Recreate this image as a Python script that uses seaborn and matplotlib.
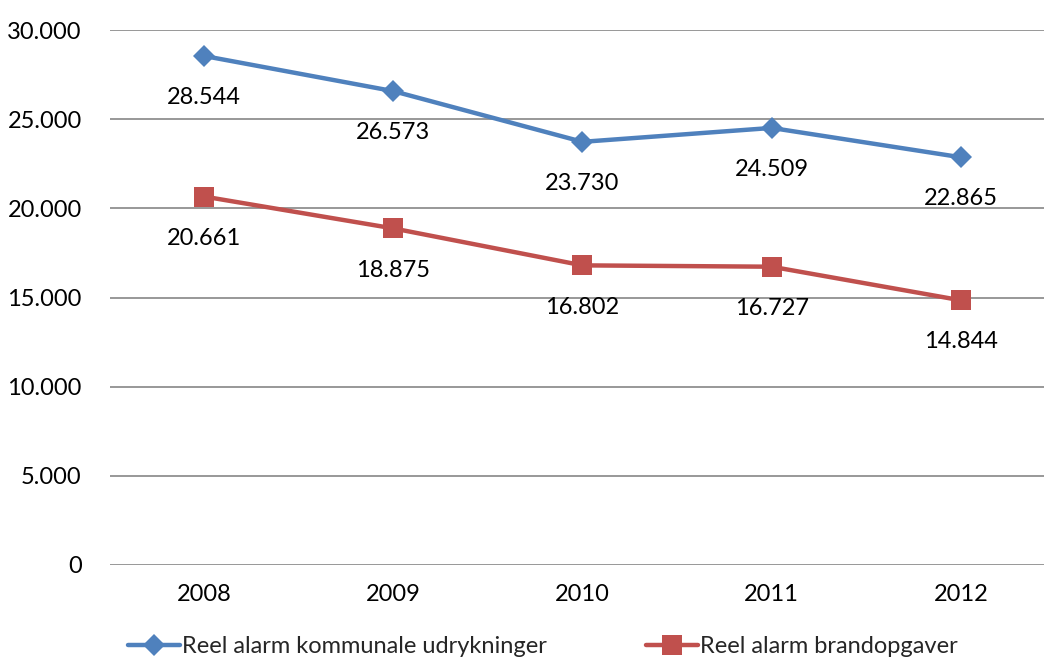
import matplotlib
matplotlib.use("Agg")
import matplotlib.pyplot as plt
import seaborn as sns
import pandas as pd
from matplotlib.ticker import FuncFormatter

years = ["2008", "2009", "2010", "2011", "2012"]
series_names = ["Reel alarm kommunale udrykninger", "Reel alarm brandopgaver"]
kommunale = [28544, 26573, 23730, 24509, 22865]
brand = [20661, 18875, 16802, 16727, 14844]

rows = []
for i, y in enumerate(years):
    rows.append({"x": i, "year": y, "value": kommunale[i], "serie": series_names[0]})
    rows.append({"x": i, "year": y, "value": brand[i], "serie": series_names[1]})
df = pd.DataFrame(rows)

sns.set_theme(style="white")
plt.rcParams["font.family"] = ["Lato", "DejaVu Sans"]

fig = plt.figure(figsize=(10.44, 6.64), dpi=100)
ax = fig.add_axes([0.1049, 0.1491, 0.906, 0.8057])

colors = {series_names[0]: "#4F81BD", series_names[1]: "#C0504D"}
sns.lineplot(data=df, x="x", y="value", hue="serie", style="serie",
             markers={series_names[0]: "D", series_names[1]: "s"},
             dashes=False, palette=colors, linewidth=3.2,
             markersize=13, markeredgewidth=0, ax=ax, legend=True)
for line in ax.lines:
    if line.get_marker() == "s":
        line.set_markersize(14)
    elif line.get_marker() == "D":
        line.set_markersize(11)

def fmt(v):
    return f"{int(round(v)):,}".replace(",", ".")

for vals in (kommunale, brand):
    for i, v in enumerate(vals):
        ax.annotate(fmt(v), (i, v), xytext=(0, -30), textcoords="offset points",
                    ha="center", va="center", fontsize=17, color="black")

ax.set_xlim(-0.5, 4.5)
ax.set_ylim(0, 30000)
ax.set_yticks(range(0, 30001, 5000))
ax.yaxis.set_major_formatter(FuncFormatter(lambda v, p: fmt(v)))
ax.set_xticks(range(len(years)))
ax.set_xticklabels(years)
ax.tick_params(axis="both", labelsize=17, length=0, colors="black")
ax.tick_params(axis="x", pad=14)
ax.tick_params(axis="y", pad=20)
ax.yaxis.grid(True, color="#868686", linewidth=1.2)
ax.xaxis.grid(False)
for s in ax.spines.values():
    s.set_visible(False)
ax.set_xlabel("")
ax.set_ylabel("")

handles, labels = ax.get_legend_handles_labels()
ax.get_legend().remove()
fig.legend(handles, labels, loc="center", bbox_to_anchor=(0.52, 0.026), ncol=2,
           frameon=False, fontsize=17, handlelength=2.2, handletextpad=0.1,
           columnspacing=4.2, borderpad=0.1)

fig.savefig("out.png", dpi=100)
